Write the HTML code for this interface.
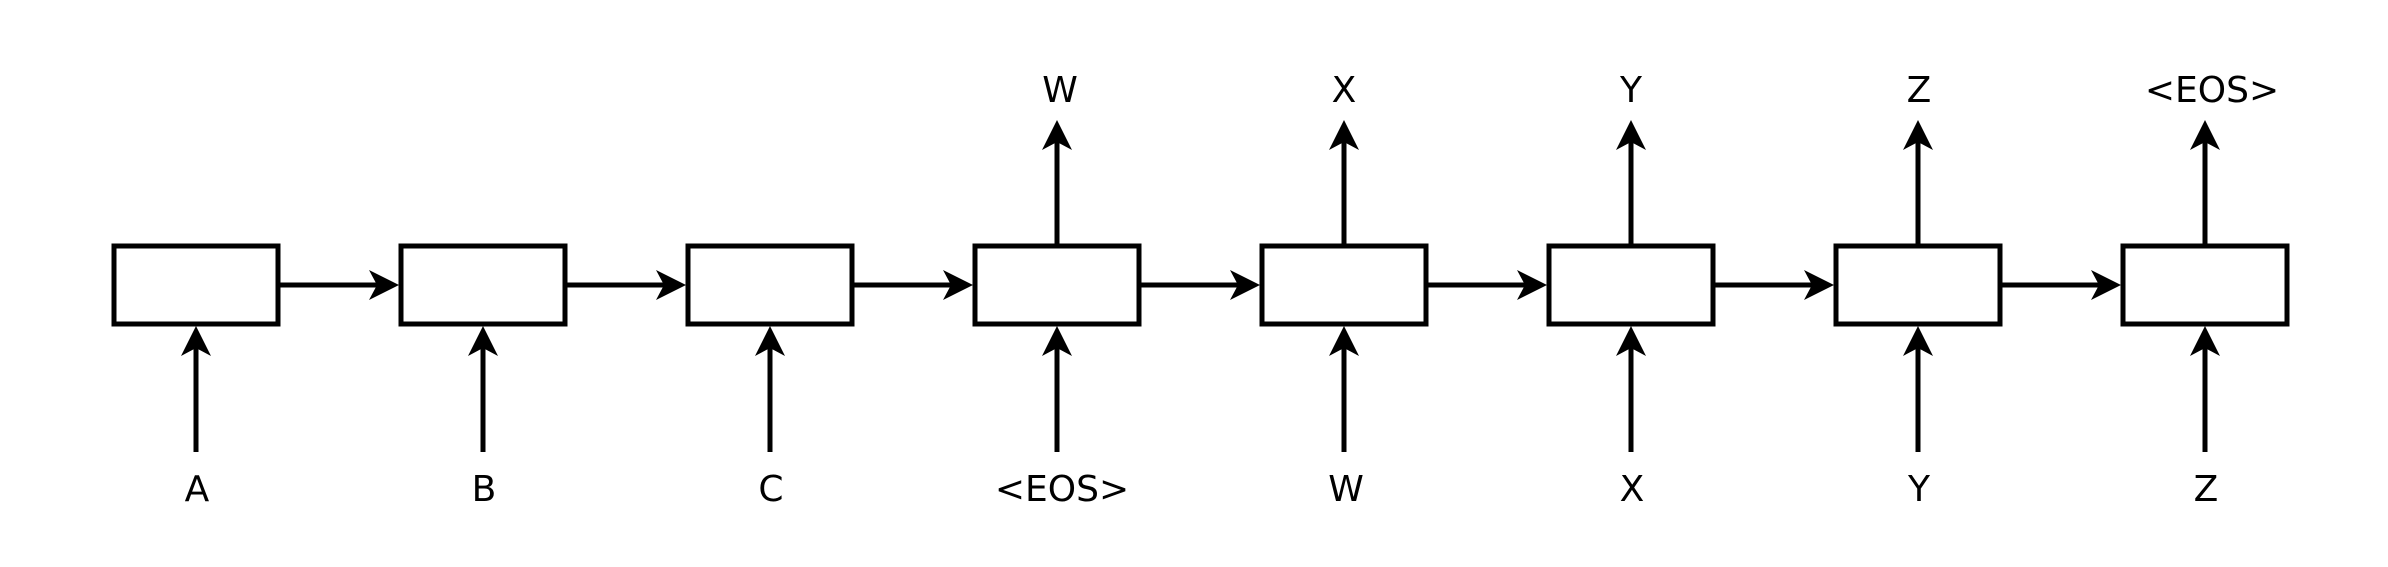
<!DOCTYPE html>
<html><head><meta charset="utf-8"><style>html,body{margin:0;padding:0;background:#fff}svg{display:block}</style></head>
<body>
<svg width="2388" height="567" viewBox="0 0 2388 567" xmlns="http://www.w3.org/2000/svg">
<defs>
<path id="hr" d="M0,0 L-30,-15 L-22,0 L-30,15 Z" fill="#000"/>
<path id="hu" d="M0,0 L-15,30 L0,22 L15,30 Z" fill="#000"/>
</defs>
<g fill="none" stroke="#000" stroke-width="5">
<rect x="114" y="246" width="164" height="78"/>
<rect x="401" y="246" width="164" height="78"/>
<rect x="688" y="246" width="164" height="78"/>
<rect x="975" y="246" width="164" height="78"/>
<rect x="1262" y="246" width="164" height="78"/>
<rect x="1549" y="246" width="164" height="78"/>
<rect x="1836" y="246" width="164" height="78"/>
<rect x="2123" y="246" width="164" height="78"/>
</g>
<g stroke="#000" stroke-width="5">
<line x1="280" y1="285" x2="381" y2="285"/>
<line x1="567" y1="285" x2="668" y2="285"/>
<line x1="854" y1="285" x2="955" y2="285"/>
<line x1="1141" y1="285" x2="1242" y2="285"/>
<line x1="1428" y1="285" x2="1529" y2="285"/>
<line x1="1715" y1="285" x2="1816" y2="285"/>
<line x1="2002" y1="285" x2="2103" y2="285"/>
<line x1="196" y1="452" x2="196" y2="346"/>
<line x1="483" y1="452" x2="483" y2="346"/>
<line x1="770" y1="452" x2="770" y2="346"/>
<line x1="1057" y1="452" x2="1057" y2="346"/>
<line x1="1344" y1="452" x2="1344" y2="346"/>
<line x1="1631" y1="452" x2="1631" y2="346"/>
<line x1="1918" y1="452" x2="1918" y2="346"/>
<line x1="2205" y1="452" x2="2205" y2="346"/>
<line x1="1057" y1="244" x2="1057" y2="140"/>
<line x1="1344" y1="244" x2="1344" y2="140"/>
<line x1="1631" y1="244" x2="1631" y2="140"/>
<line x1="1918" y1="244" x2="1918" y2="140"/>
<line x1="2205" y1="244" x2="2205" y2="140"/>
</g>
<use href="#hr" x="399" y="285"/><use href="#hr" x="686" y="285"/><use href="#hr" x="973" y="285"/><use href="#hr" x="1260" y="285"/>
<use href="#hr" x="1547" y="285"/><use href="#hr" x="1834" y="285"/><use href="#hr" x="2121" y="285"/>
<use href="#hu" x="196" y="326"/><use href="#hu" x="483" y="326"/><use href="#hu" x="770" y="326"/><use href="#hu" x="1057" y="326"/>
<use href="#hu" x="1344" y="326"/><use href="#hu" x="1631" y="326"/><use href="#hu" x="1918" y="326"/><use href="#hu" x="2205" y="326"/>
<use href="#hu" x="1057" y="120"/><use href="#hu" x="1344" y="120"/><use href="#hu" x="1631" y="120"/><use href="#hu" x="1918" y="120"/><use href="#hu" x="2205" y="120"/>
<g font-family="DejaVu Sans, Liberation Sans, sans-serif" font-size="36" text-anchor="middle" fill="#000">
<text x="197" y="501">A</text>
<text x="484" y="501">B</text>
<text x="771" y="501">C</text>
<text x="1062" y="501">&lt;EOS&gt;</text>
<text x="1346" y="501">W</text>
<text x="1632" y="501">X</text>
<text x="1919" y="501">Y</text>
<text x="2206" y="501">Z</text>
<text x="1060" y="102">W</text>
<text x="1344" y="102">X</text>
<text x="1631" y="102">Y</text>
<text x="1919" y="102">Z</text>
<text x="2212" y="102">&lt;EOS&gt;</text>
</g>
</svg>
</body></html>
